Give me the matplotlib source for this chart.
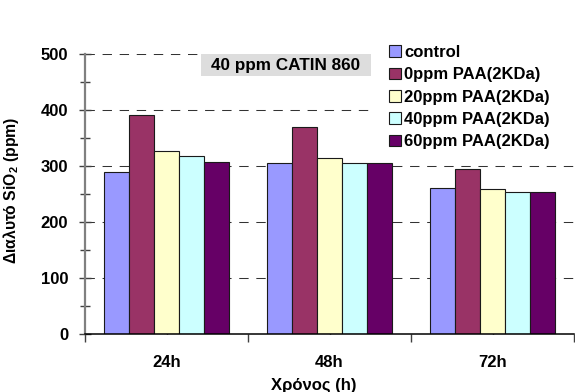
import matplotlib
matplotlib.use("Agg")
import matplotlib.pyplot as plt
from matplotlib.patches import Rectangle
from matplotlib.ticker import MultipleLocator, FixedLocator
import numpy as np

plt.rcParams['font.family'] = ['Liberation Sans', 'DejaVu Sans']
plt.rcParams['font.weight'] = 'bold'
plt.rcParams['mathtext.fontset'] = 'custom'
plt.rcParams['mathtext.rm'] = 'Liberation Sans:bold'
plt.rcParams['mathtext.it'] = 'Liberation Sans:bold'
plt.rcParams['mathtext.bf'] = 'Liberation Sans:bold'
plt.rcParams['mathtext.default'] = 'rm'

# Data
times = ["24h", "48h", "72h"]
series_names = ["control", "0ppm PAA(2KDa)", "20ppm PAA(2KDa)",
                "40ppm PAA(2KDa)", "60ppm PAA(2KDa)"]
control = [290, 305, 260]
paa_0 = [392, 369, 294]
paa_20 = [326, 314, 258]
paa_40 = [317, 306, 253]
paa_60 = [308, 306, 254]
series_values = [control, paa_0, paa_20, paa_40, paa_60]
colors = ["#9999FF", "#993366", "#FFFFCC", "#CCFFFF", "#660066"]
y_ticks = [0, 100, 200, 300, 400, 500]

W, H = 575, 392
fig = plt.figure(figsize=(W / 100, H / 100), dpi=100)
ax = fig.add_axes([85 / W, 1 - 333.5 / H, 489 / W, (333.5 - 54.3) / H])

x = np.arange(len(times))
bw = 0.154
for i, (vals, c, name) in enumerate(zip(series_values, colors, series_names)):
    ax.bar(x + (i - 2) * bw, vals, width=bw, color=c, edgecolor="#1a1a1a",
           linewidth=0.8, label=name, zorder=3)

ax.set_xlim(-0.5, len(times) - 0.5)
ax.set_ylim(0, 500)

# Gridlines
for yv in y_ticks[1:]:
    ax.axhline(yv, color="#333333", linewidth=0.75, linestyle=(0, (9, 7.4)),
               zorder=1)

# Spines
for s in ("top", "right"):
    ax.spines[s].set_visible(False)
ax.spines["left"].set_color("#808080")
ax.spines["left"].set_linewidth(1.6)
ax.spines["bottom"].set_color("#000000")
ax.spines["bottom"].set_linewidth(1.1)
ax.spines["bottom"].set_zorder(4)

# Y ticks
ax.yaxis.set_major_locator(FixedLocator(y_ticks))
ax.yaxis.set_minor_locator(MultipleLocator(50))
ax.tick_params(axis="y", which="major", direction="inout", length=8,
               width=1, color="#404040", labelsize=12, pad=8)
ax.tick_params(axis="y", which="minor", direction="inout", length=7,
               width=1, color="#404040")

# X ticks: category centres inward, category boundaries outward
ax.set_xticks(x)
ax.set_xticklabels(times)
ax.xaxis.set_minor_locator(FixedLocator(np.arange(-0.5, len(times), 1.0)))
ax.tick_params(axis="x", which="major", direction="in", length=6, width=1,
               color="#000000", labelsize=12, pad=15.5)
ax.tick_params(axis="x", which="minor", direction="out", length=6, width=1,
               color="#404040")

# Axis titles
ax.set_ylabel("Διαλυτό SiO$_2$ (ppm)", fontsize=11.3, fontweight="bold")
ax.yaxis.set_label_coords(-0.131, 0.514)
fig.text(314 / W, 1 - 390 / H, "Χρόνος (h)", fontsize=12,
         fontweight="bold", ha="center", va="baseline")

# Title box
fig.patches.append(Rectangle((201 / W, 1 - 76 / H), 170 / W, 22 / H,
                             transform=fig.transFigure, facecolor="#DDDDDD",
                             edgecolor="none", zorder=5))
fig.text(286 / W, 1 - 65.5 / H, "40 ppm CATIN 860", fontsize=12.3,
         fontweight="bold", ha="center", va="center", zorder=6)

# White backing behind the legend
fig.patches.append(Rectangle((371 / W, 1 - 153 / H), 204 / W, 117 / H,
                             transform=fig.transFigure, facecolor="white",
                             edgecolor="none", zorder=2))

# Legend
leg = fig.legend(loc="upper left", bbox_to_anchor=(389 / W, 1 - 45 / H),
                 frameon=False, fontsize=12, handlelength=0.72,
                 handleheight=0.72, handletextpad=0.2, labelspacing=0.44,
                 borderpad=0, borderaxespad=0)
leg.set_zorder(6)

fig.savefig("out.png", dpi=100)
